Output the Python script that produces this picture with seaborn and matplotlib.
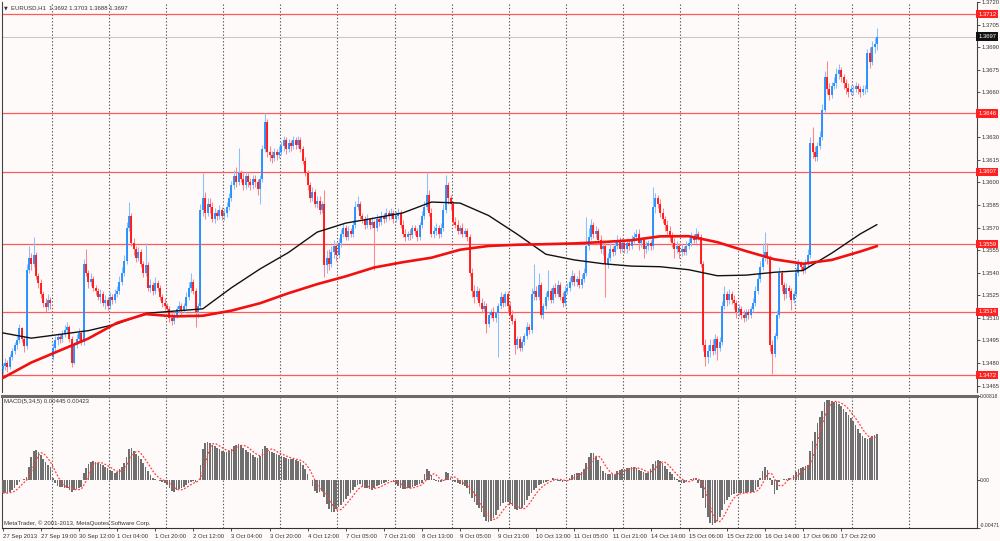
import numpy as np
import pandas as pd
import seaborn as sns
import matplotlib.pyplot as plt
from matplotlib.transforms import blended_transform_factory

# EURUSD H1, 27 Sep 2013 03:00 .. 18 Oct 2013 10:00
# prices are pips above 1.3400, one value per bar
BASE = 1.3400

close_pips = [
    78, 80, 77, 84, 88, 92, 95, 103, 96, 91, 142, 150, 146, 152, 138, 133, 126, 120, 117, 122, 120,
    90, 95, 97, 96, 99, 102, 104, 96, 80, 92, 96, 100, 94, 146, 140, 134, 136, 130, 128, 124, 126, 120, 122, 118,
    124, 122, 126, 128, 134, 140, 148, 170, 178, 160, 156, 150, 154, 146, 140, 145, 130, 132, 128, 133, 130, 124, 120, 118,
    116, 110, 108, 112, 116, 118, 115, 118, 124, 130, 134, 128, 114, 118, 182, 190, 180, 186, 184, 176, 180, 178, 182, 178,
    180, 184, 190, 198, 204, 200, 206, 202, 198, 204, 200, 198, 202, 200, 196, 202, 222, 240, 220, 218, 216, 220, 218, 220,
    224, 228, 222, 226, 224, 228, 225, 228, 222, 214, 206, 198, 190, 194, 186, 188, 182, 186, 145, 150, 146, 154, 158, 152,
    160, 166, 170, 164, 168, 166, 172, 184, 186, 178, 176, 172, 176, 172, 174, 170, 176, 174, 178, 176, 180, 178, 180, 176,
    178, 180, 172, 166, 164, 166, 165, 170, 168, 164, 172, 178, 184, 192, 180, 166, 168, 170, 166, 170, 182, 198, 190, 186,
    174, 172, 168, 170, 166, 168, 164, 140, 128, 124, 128, 120, 116, 118, 106, 112, 114, 110, 113, 118, 124, 120, 126, 118,
    112, 108, 92, 96, 90, 94, 98, 104, 102, 126, 128, 124, 132, 112, 118, 124, 128, 122, 130, 126, 132, 124, 120, 128,
    130, 134, 138, 134, 136, 132, 136, 140, 158, 164, 172, 166, 168, 162, 156, 158, 146, 150, 156, 154, 158, 162, 156, 160,
    156, 160, 158, 162, 164, 166, 160, 162, 156, 158, 160, 158, 184, 190, 186, 180, 176, 172, 168, 164, 160, 156, 158, 154,
    156, 154, 158, 160, 164, 162, 166, 164, 146, 92, 84, 88, 92, 88, 96, 90, 94, 118, 126, 122, 126, 122, 120, 114,
    116, 112, 110, 114, 112, 116, 120, 128, 136, 144, 150, 154, 150, 92, 86, 98, 112, 140, 132, 126, 130, 128, 122, 126,
    140, 146, 144, 142, 146, 152, 226, 220, 217, 224, 230, 248, 270, 262, 258, 264, 266, 272, 275, 270, 266, 263, 260, 262,
    262, 264, 262, 260, 262, 262, 286, 280, 290, 292, 297,
]

high_pips = [
    80, 83, 82, 86, 90, 94, 98, 106, 104, 98, 146, 158, 153, 164, 154, 140, 136, 128, 123, 126, 124,
    93, 98, 100, 99, 102, 105, 107, 105, 98, 94, 99, 103, 102, 149, 156, 142, 140, 138, 132, 130, 129, 128, 125, 124,
    127, 126, 129, 131, 138, 144, 152, 174, 187, 180, 163, 158, 157, 156, 148, 160, 147, 136, 134, 137, 135, 132, 126, 123,
    120, 118, 113, 114, 118, 121, 120, 120, 127, 134, 140, 136, 130, 120, 186, 206, 194, 190, 190, 187, 183, 182, 185, 184,
    183, 187, 193, 201, 208, 210, 223, 208, 206, 207, 206, 203, 205, 205, 202, 205, 225, 246, 242, 224, 221, 223, 222, 224,
    227, 231, 230, 229, 228, 231, 230, 231, 230, 224, 217, 208, 200, 197, 196, 191, 191, 188, 195, 155, 156, 158, 162, 160,
    163, 169, 173, 172, 171, 170, 175, 188, 191, 188, 180, 178, 179, 176, 177, 175, 179, 178, 181, 180, 183, 182, 183, 182,
    181, 183, 182, 175, 169, 168, 169, 172, 172, 170, 174, 181, 188, 207, 195, 183, 171, 173, 172, 173, 186, 205, 200, 192,
    188, 177, 175, 172, 173, 170, 170, 166, 143, 132, 131, 130, 123, 121, 120, 114, 116, 117, 114, 120, 127, 126, 128, 128,
    121, 115, 110, 98, 98, 96, 100, 107, 106, 130, 146, 131, 140, 134, 120, 127, 142, 130, 132, 133, 135, 134, 127, 131,
    133, 137, 142, 140, 138, 142, 139, 143, 177, 170, 176, 174, 171, 170, 165, 162, 160, 153, 160, 158, 161, 165, 164, 163,
    162, 163, 162, 165, 167, 169, 169, 164, 164, 161, 162, 162, 197, 193, 192, 189, 183, 178, 175, 171, 167, 163, 161, 160,
    159, 158, 161, 163, 167, 166, 170, 168, 166, 148, 96, 92, 96, 96, 99, 98, 97, 121, 131, 128, 129, 128, 125, 122,
    119, 118, 115, 116, 116, 118, 123, 131, 140, 148, 160, 167, 160, 152, 95, 100, 115, 144, 142, 134, 133, 132, 130, 128,
    143, 149, 148, 146, 149, 156, 230, 237, 224, 227, 234, 252, 274, 281, 266, 267, 270, 276, 279, 277, 272, 269, 266, 265,
    265, 267, 266, 264, 265, 265, 289, 290, 294, 296, 303,
]

low_pips = [
    73, 75, 74, 76, 82, 86, 89, 93, 94, 87, 89, 140, 142, 144, 136, 130, 123, 117, 114, 115, 116,
    82, 88, 92, 93, 94, 97, 100, 94, 77, 79, 90, 94, 92, 92, 138, 130, 131, 128, 125, 122, 120, 118, 116, 115,
    116, 119, 120, 124, 126, 132, 138, 146, 168, 158, 152, 147, 148, 144, 137, 138, 128, 127, 125, 126, 128, 122, 117, 115,
    114, 107, 105, 106, 110, 113, 112, 113, 116, 122, 127, 126, 104, 110, 116, 178, 176, 178, 180, 174, 173, 175, 176, 175,
    175, 177, 182, 188, 196, 197, 198, 200, 195, 196, 197, 195, 196, 197, 192, 186, 200, 220, 217, 214, 213, 214, 215, 216,
    218, 221, 219, 220, 221, 222, 222, 223, 220, 212, 204, 195, 187, 188, 184, 183, 179, 180, 137, 140, 142, 144, 150, 148,
    150, 157, 164, 162, 162, 164, 164, 170, 182, 176, 173, 169, 170, 169, 170, 142, 168, 171, 172, 173, 174, 175, 176, 173,
    174, 176, 170, 164, 161, 162, 162, 163, 165, 161, 162, 170, 176, 182, 178, 164, 163, 165, 163, 164, 168, 180, 186, 182,
    172, 170, 166, 166, 164, 164, 161, 138, 124, 120, 122, 118, 113, 114, 100, 104, 110, 108, 107, 84, 116, 117, 118, 114,
    110, 106, 86, 89, 88, 88, 92, 96, 99, 100, 122, 122, 122, 110, 109, 116, 122, 120, 120, 124, 124, 122, 117, 118,
    126, 128, 132, 131, 131, 130, 130, 134, 138, 155, 162, 163, 163, 160, 153, 152, 124, 143, 148, 151, 152, 156, 153, 154,
    153, 153, 155, 156, 160, 162, 155, 157, 150, 153, 155, 155, 156, 180, 183, 177, 173, 168, 165, 161, 157, 150, 153, 150,
    151, 152, 152, 156, 158, 160, 160, 162, 144, 88, 78, 80, 84, 85, 86, 82, 88, 92, 116, 118, 119, 119, 116, 110,
    111, 109, 107, 108, 109, 110, 114, 118, 126, 134, 142, 148, 146, 88, 73, 84, 96, 110, 128, 122, 123, 124, 115, 120,
    124, 138, 141, 139, 140, 144, 150, 216, 214, 214, 222, 228, 246, 259, 255, 256, 262, 263, 269, 267, 262, 259, 257, 258,
    258, 260, 259, 257, 258, 259, 260, 276, 278, 286, 288,
]

first_open = 76
gap_opens = {21: 84}  # Monday 30 Sep opened with a gap

# MACD(5,34,5) main line in pips (1e-4)
macd_pips = [
    -13, -13.5, -13, -12, -10, -8, -5, -2, 0, 1, 3, 12, 22, 28, 29, 27, 24, 20, 17, 14, 12, 2, -3, -6,
    -7, -7, -8, -8, -10, -12, -10, -9, -8, -7, 6, 11, 15, 17, 18, 17, 16, 15, 14, 12, 11, 9, 8, 6,
    7, 10, 12, 16, 22, 30, 31, 28, 25, 23, 20, 16, 12, 8, 4, 2, 1, 0, -1, -2, -3, -5, -8, -11,
    -12, -10, -9, -8, -7, -5, -3, -2, -1, -2, 0, 14, 30, 36, 37, 36, 34, 33, 31, 30, 28, 27, 27, 28,
    30, 33, 34, 35, 34, 31, 29, 27, 26, 24, 22, 21, 23, 30, 33, 31, 28, 27, 26, 25, 24, 23, 22, 21,
    20, 20, 20, 19, 18, 17, 14, 10, 5, 0, -6, -11, -13, -12, -11, -17, -24, -29, -32, -32, -29, -27, -25, -22,
    -19, -16, -13, -10, -7, -5, -4, -7, -8, -8, -9, -10, -8, -6, -5, -4, -3, -2, -1, 0, -2, -4, -6, -8,
    -9, -9, -8, -8, -7, -6, -5, -4, -3, 5, 10, 8, 4, 1, -1, -2, -2, -1, 7, 6, 2, -1, -2, -3,
    -4, -5, -6, -8, -14, -18, -22, -25, -28, -32, -36, -40, -41, -40, -37, -34, -30, -26, -23, -22, -22, -24, -26, -29,
    -30, -29, -28, -25, -20, -16, -13, -10, -8, -5, -4, -3, -2, -1, 0, 2, 1, -1, -1, -2, -1, 0, 2, 4,
    5, 6, 6, 7, 10, 16, 22, 26, 26, 22, 19, 13, 8, 6, 5, 5, 5, 4, 8, 9, 10, 10, 11, 11,
    12, 12, 11, 9, 8, 7, 6, 6, 10, 15, 18, 19, 18, 16, 13, 10, 7, 5, 3, 1, -2, -3, -3, -2,
    0, 1, 2, 2, -3, -8, -18, -28, -36, -42, -44, -42, -40, -36, -30, -24, -20, -17, -15, -14, -13, -13, -13, -13,
    -13, -12, -12, -12, -10, -7, 2, 8, 12, 9, 2, -5, -14, -10, -2, 0, 1, 1, 2, 0, 4, 7, 10, 11,
    12, 13, 14, 28, 38, 46, 55, 61, 67, 75, 77, 77, 76, 75, 75, 74, 72, 69, 66, 63, 60, 57, 53, 49,
    45, 42, 40, 39, 40, 42, 43, 44.5,
]

# moving averages read every 12 bars (pips above 1.3400)
ma_bars = [0, 12, 24, 36, 48, 60, 72, 84, 96, 108, 120, 132, 144, 156, 168, 180,
           192, 204, 216, 228, 240, 252, 264, 276, 288, 300, 312, 324, 336, 348, 360, 367]
ma_black = [100, 96.5, 99, 101.5, 106, 113, 114.5, 116, 130, 142.5, 153.5, 167, 173, 176.3, 179.8, 187,
            186.3, 178, 165.6, 152.3, 148.5, 146, 144.4, 144, 142, 138, 138.4, 140.3, 141.5, 153, 165.8, 172]
ma_red = [70, 80.3, 88.3, 96.3, 106.7, 112.5, 111, 111.4, 114.8, 119.7, 126.4, 132.4, 137.6, 143.5, 147, 150,
          155.3, 157.8, 158.6, 159, 159.5, 160.4, 161.6, 164.2, 164.3, 160.3, 154.4, 148.9, 146, 148.5, 154.1, 157.7]

levels = [1.3712, 1.3646, 1.3607, 1.3559, 1.3514, 1.3472]
last_price = 1.3697

tick_labels = ["27 Sep 2013", "27 Sep 19:00", "30 Sep 12:00", "1 Oct 04:00", "1 Oct 20:00",
               "2 Oct 12:00", "3 Oct 04:00", "3 Oct 20:00", "4 Oct 12:00", "7 Oct 05:00",
               "7 Oct 21:00", "8 Oct 13:00", "9 Oct 05:00", "9 Oct 21:00", "10 Oct 13:00",
               "11 Oct 05:00", "11 Oct 21:00", "14 Oct 14:00", "15 Oct 06:00", "15 Oct 22:00",
               "16 Oct 14:00", "17 Oct 06:00", "17 Oct 22:00"]

# ---- build the bar table
n = len(close_pips)
opens = [first_open] + close_pips[:-1]
for b, v in gap_opens.items():
    opens[b] = v
df = pd.DataFrame({
    "bar": np.arange(n),
    "open": BASE + np.array(opens) / 1e4,
    "high": BASE + np.array(high_pips) / 1e4,
    "low": BASE + np.array(low_pips) / 1e4,
    "close": BASE + np.array(close_pips) / 1e4,
})
df["macd"] = np.array(macd_pips) / 1e4
df["signal"] = df["macd"].rolling(5, min_periods=1).mean()
ma = pd.DataFrame({"bar": ma_bars,
                   "black": BASE + np.array(ma_black) / 1e4,
                   "red": BASE + np.array(ma_red) / 1e4})

BG = "#fffafa"
TXT = "#333333"
sns.set_theme(style="white")
plt.rcParams["font.family"] = ["Liberation Sans", "DejaVu Sans"]

W, H = 1000, 541
fig = plt.figure(figsize=(10, 5.41), dpi=100, facecolor=BG)
ax = fig.add_axes([2 / W, 1 - 392 / H, 975 / W, 390 / H])
axm = fig.add_axes([2 / W, 1 - 528 / H, 975 / W, 132.5 / H])

for a in (ax, axm):
    a.set_facecolor(BG)
    a.set_xlim(-0.3, 409)
    for k in range(16):
        a.axvline(20.5 + 24 * k, color="#555555", lw=0.8, ls=(0, (1.2, 1.8)), zorder=1)

# ---- price panel
up = df["close"] >= df["open"]
dn = ~up
ax.vlines(df.bar[up], df.low[up], df.high[up], color="#86c2ff", lw=0.75, zorder=3)
ax.vlines(df.bar[dn], df.low[dn], df.high[dn], color="#ff8686", lw=0.75, zorder=3)
body_lo = np.minimum(df.open, df.close)
body_hi = np.maximum(np.maximum(df.open, df.close), body_lo + 0.00003)
ax.vlines(df.bar[up], body_lo[up], body_hi[up], color="#1e8cff", lw=1.3, zorder=4)
ax.vlines(df.bar[dn], body_lo[dn], body_hi[dn], color="#ff1010", lw=1.3, zorder=4)

sns.lineplot(data=ma, x="bar", y="black", ax=ax, color="#111111", lw=1.0, zorder=5)
sns.lineplot(data=ma, x="bar", y="red", ax=ax, color="#f01010", lw=1.9, zorder=5)

for lv in levels:
    ax.axhline(lv, color="#ff5a5a", lw=0.9, zorder=2)
ax.axhline(last_price, color="#c8c8c8", lw=0.8, zorder=2)

ax.set_ylim(1.34607, 1.37200)
ax.yaxis.tick_right()
price_ticks = np.round(np.arange(1.3465, 1.37205, 0.0015), 4)
ax.set_yticks(price_ticks)
# a tick label that would sit under a level box is left out, as the terminal does
ax.set_yticklabels(["" if min(abs(v - lv) for lv in levels) < 0.0003 else f"{v:.4f}"
                    for v in price_ticks])
ax.tick_params(axis="y", labelsize=4.2, length=2.5, width=0.6, pad=1.0,
               colors=TXT, right=True)
ax.set_xticks([])
ax.set_xlabel("")
ax.set_ylabel("")

trans = blended_transform_factory(ax.transAxes, ax.transData)
for lv in levels:
    ax.text(1.0012, lv, f"{lv:.4f}", transform=trans, ha="left", va="center",
            fontsize=4.2, color="white", clip_on=False, zorder=10,
            bbox=dict(boxstyle="square,pad=0.3", fc="#ff2020", ec="none"))
ax.text(1.0012, last_price, f"{last_price:.4f}", transform=trans, ha="left", va="center",
        fontsize=4.2, color="white", clip_on=False, zorder=10,
        bbox=dict(boxstyle="square,pad=0.3", fc="#111111", ec="none"))

# ---- MACD panel
axm.bar(df.bar, df.macd, width=0.7, color="#6f6f6f", edgecolor="none", zorder=3)
sns.lineplot(data=df, x="bar", y="signal", ax=axm, color="#ff4040", lw=0.9,
             linestyle=(0, (1.5, 1.3)), zorder=4)
axm.set_ylim(-0.00471, 0.00818)
axm.yaxis.tick_right()
axm.set_yticks([-0.00471, 0.0, 0.00818])
axm.set_yticklabels(["-0.00471", "0.00", "0.00818"])
axm.tick_params(axis="y", labelsize=3.6, length=1.8, width=0.6, pad=0.5,
                colors=TXT, right=True)
for lab in axm.get_yticklabels()[:1]:
    lab.set_verticalalignment("bottom")
axm.set_xticks(np.arange(0, n, 16))
axm.set_xticklabels(tick_labels, ha="left")
axm.tick_params(axis="x", labelsize=4.3, length=2.5, width=0.6, pad=1.5,
                colors=TXT, bottom=True)
axm.set_xlabel("")
axm.set_ylabel("")

for a in (ax, axm):
    for sp in ("left", "right"):
        a.spines[sp].set_color("#444444")
        a.spines[sp].set_linewidth(0.8)
ax.spines["top"].set_visible(False)
ax.spines["bottom"].set_visible(False)
axm.spines["top"].set_color("#6a6a6a")
axm.spines["top"].set_linewidth(2.2)
axm.spines["bottom"].set_color(TXT)
axm.spines["bottom"].set_linewidth(0.8)

# ---- header texts
fig.text(4 / W, 1 - 8 / H, "\u25bc", fontsize=3.5, color=TXT, va="center",
         family=["DejaVu Sans"])
fig.text(11 / W, 1 - 8 / H, "EURUSD,H1  1.3692 1.3703 1.3688 1.3697",
         fontsize=4.3, color=TXT, va="center")
fig.text(4 / W, 1 - 401 / H, "MACD(5,34,5) 0.00445 0.00423",
         fontsize=4.3, color=TXT, va="center")
fig.text(4 / W, 1 - 523 / H, "MetaTrader, \u00a9 2001-2013, MetaQuotes Software Corp.",
         fontsize=4.3, color=TXT, va="center")

fig.savefig("out.png", dpi=100, facecolor=BG)
